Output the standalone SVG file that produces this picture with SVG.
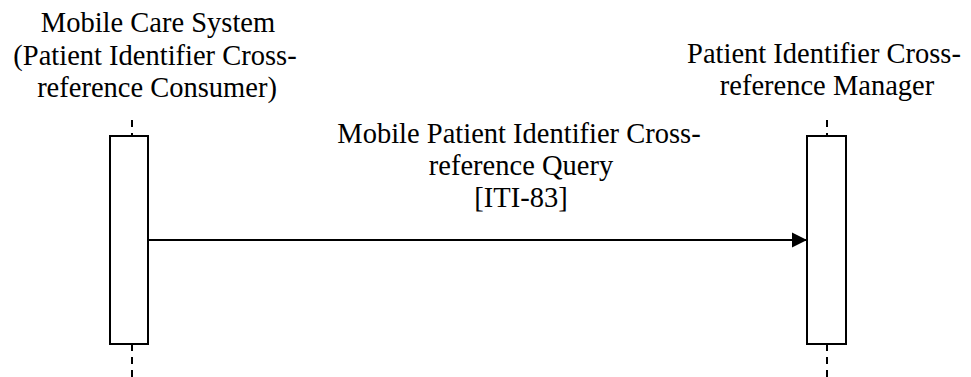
<svg xmlns="http://www.w3.org/2000/svg" width="971" height="377" viewBox="0 0 971 377">
  <defs>
    <style>
      .lbl { font-family: 'Liberation Serif', 'Times New Roman', serif; font-size: 28.5px; fill: #000; text-anchor: middle; }
      .act { fill: #fff; stroke: #000; stroke-width: 2; }
      .life { stroke: #000; stroke-width: 2; stroke-dasharray: 7 6; fill: none; }
      .msg { stroke: #000; stroke-width: 2; fill: none; }
    </style>
    <marker id="arrow" markerUnits="userSpaceOnUse" markerWidth="16" markerHeight="16" viewBox="0 0 16 16" refX="15" refY="8" orient="auto">
      <path d="M0,0.5 L15,8 L0,15.5 Z" fill="#000"/>
    </marker>
  </defs>
  <rect width="971" height="377" fill="#fff"/>

  <g id="consumer">
    <text class="lbl" x="158" y="32">Mobile Care System</text>
    <text class="lbl" x="155" y="65">(Patient Identifier Cross-</text>
    <text class="lbl" x="157" y="97">reference Consumer)</text>
    <line class="life" x1="132" y1="120" x2="132" y2="136"/>
    <line class="life" x1="132" y1="344" x2="132" y2="377"/>
    <rect class="act" x="110" y="136" width="38" height="208"/>
  </g>

  <g id="manager">
    <text class="lbl" x="824" y="63">Patient Identifier Cross-</text>
    <text class="lbl" x="827" y="95">reference Manager</text>
    <line class="life" x1="827" y1="120" x2="827" y2="136"/>
    <line class="life" x1="827" y1="344" x2="827" y2="377"/>
    <rect class="act" x="807" y="136" width="39" height="208"/>
  </g>

  <g id="connectors">
    <line class="msg" x1="148" y1="240" x2="807" y2="240" marker-end="url(#arrow)"/>
    <text class="lbl" x="519" y="143">Mobile Patient Identifier Cross-</text>
    <text class="lbl" x="521" y="175">reference Query</text>
    <text class="lbl" x="521" y="207">[ITI-83]</text>
  </g>
</svg>
